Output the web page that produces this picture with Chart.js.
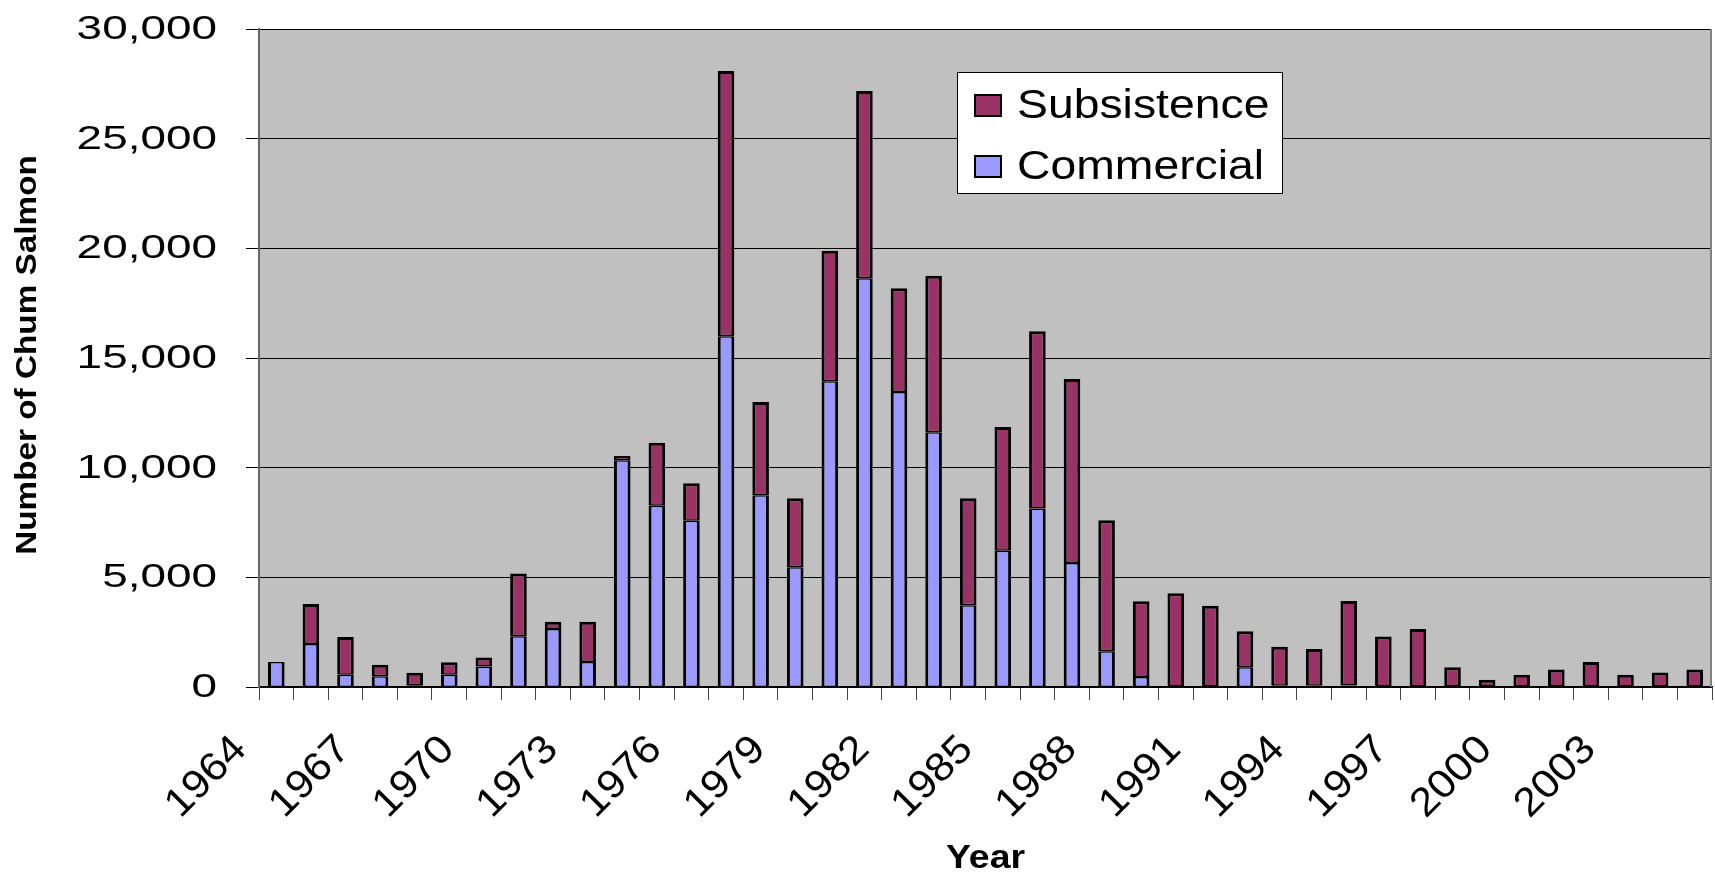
<!DOCTYPE html>
<html>
<head>
<meta charset="utf-8">
<title>Chum Salmon Harvest</title>
<script src="https://cdn.jsdelivr.net/npm/chart.js@4"></script>
<style>
  body { margin: 0; background: #fff; }
  canvas { display: block; }
</style>
</head>
<body>
<canvas id="harvestChart" width="1715" height="873"></canvas>
<script>
var years = ['1964','1965','1966','1967','1968','1969','1970','1971','1972','1973',
             '1974','1975','1976','1977','1978','1979','1980','1981','1982','1983',
             '1984','1985','1986','1987','1988','1989','1990','1991','1992','1993',
             '1994','1995','1996','1997','1998','1999','2000','2001','2002','2003',
             '2004','2005'];

// fish taken by the commercial fishery (bottom of each bar)
var commercial = [1140, 1960, 560, 490, 80, 560, 930, 2310, 2650, 1140,
                  10340, 8260, 7580, 15990, 8745, 5460, 13940, 18640, 13455, 11620,
                  3730, 6215, 8140, 5650, 1625, 455, 0, 0, 895, 60,
                  60, 70, 0, 0, 0, 0, 0, 0, 0, 0,
                  0, 0];

// subsistence harvest stacked on top
var subsistence = [0, 1825, 1720, 530, 570, 565, 420, 2860, 330, 1840,
                   190, 2880, 1710, 12090, 4245, 3150, 5955, 8530, 4730, 7125,
                   4880, 5635, 8075, 8395, 5975, 3455, 4275, 3710, 1645, 1780,
                   1675, 3855, 2300, 2650, 905, 325, 555, 800, 1135, 555,
                   660, 800];

// every third year gets a label on the x axis
var yearLabels = ['1964','1967','1970','1973','1976','1979','1982','1985',
                  '1988','1991','1994','1997','2000','2003'];

var FONT = '"Liberation Sans", Arial, sans-serif';

// the labels in this chart are drawn wider than the font, so scale them along x
function stretchText(ctx, text, x, y, angle, sx, font, align) {
    ctx.save();
    ctx.translate(x, y);
    ctx.rotate(angle);
    ctx.scale(sx, 1);
    ctx.font = font;
    ctx.fillStyle = '#000';
    ctx.textAlign = align;
    ctx.textBaseline = 'alphabetic';
    ctx.fillText(text, 0, 0);
    ctx.restore();
}

var textPlugin = {
    id: 'salmonText',
    beforeDraw: function(chart) {
        var ctx = chart.ctx, a = chart.chartArea;
        ctx.save();
        ctx.fillStyle = '#c0c0c0';
        ctx.fillRect(a.left, a.top, a.right - a.left, a.bottom - a.top);
        ctx.restore();
    },
    afterDraw: function(chart) {
        var ctx = chart.ctx, a = chart.chartArea;
        var xs = chart.scales.x, ys = chart.scales.y;

        // grey frame on the right side of the plot
        ctx.save();
        ctx.strokeStyle = '#808080';
        ctx.lineWidth = 2;
        ctx.beginPath();
        ctx.moveTo(a.right - 1, a.top);
        ctx.lineTo(a.right - 1, a.bottom);
        ctx.stroke();
        ctx.restore();

        // y tick labels
        ys.ticks.forEach(function(t) {
            stretchText(ctx, t.value.toLocaleString('en-US'), a.left - 42,
                        ys.getPixelForValue(t.value) + 10, 0, 1.35, '34px ' + FONT, 'right');
        });

        // rotated year labels
        yearLabels.forEach(function(lbl) {
            var cx = xs.getPixelForValue(years.indexOf(lbl));
            stretchText(ctx, lbl, cx - 28, a.bottom + 64, -Math.PI / 4, 1.08, '40px ' + FONT, 'right');
        });

        // axis titles
        stretchText(ctx, 'Number of Chum Salmon', 36, (a.top + a.bottom) / 2 - 3,
                    -Math.PI / 2, 1.11, 'bold 30px ' + FONT, 'center');
        stretchText(ctx, 'Year', (a.left + a.right) / 2, 868, 0, 1.1, 'bold 34px ' + FONT, 'center');

        // legend box, subsistence listed first
        ctx.save();
        ctx.fillStyle = '#fff';
        ctx.fillRect(957, 72, 325, 121);
        ctx.strokeStyle = '#000';
        ctx.lineWidth = 1;
        ctx.strokeRect(957.5, 72.5, 325, 121);
        ctx.restore();

        var sets = chart.data.datasets.slice().reverse();
        sets.forEach(function(ds, i) {
            var top = 94 + i * 61;
            ctx.save();
            ctx.fillStyle = ds.backgroundColor;
            ctx.fillRect(974, top, 28, 23);
            ctx.strokeStyle = '#000';
            ctx.lineWidth = 2;
            ctx.strokeRect(975, top + 1, 26, 21);
            ctx.restore();
            stretchText(ctx, ds.label, 1017, top + 24, 0, 1.13, '41px ' + FONT, 'left');
        });
    }
};

var ctx = document.getElementById('harvestChart').getContext('2d');

var harvestChart = new Chart(ctx, {
    type: 'bar',
    data: {
        labels: years,
        datasets: [{
            label: 'Commercial',
            data: commercial,
            backgroundColor: '#9999ff',
            borderColor: '#000',
            borderWidth: { top: 1.5, bottom: 1, left: 3, right: 3 },
            borderSkipped: false,
            barPercentage: 0.48,
            categoryPercentage: 1
        }, {
            label: 'Subsistence',
            data: subsistence,
            backgroundColor: '#993366',
            borderColor: '#000',
            borderWidth: { top: 3, bottom: 1.5, left: 3, right: 3 },
            borderSkipped: false,
            barPercentage: 0.48,
            categoryPercentage: 1
        }]
    },
    options: {
        responsive: false,
        animation: false,
        layout: { padding: { left: 246, top: 29, right: 3, bottom: 173 } },
        plugins: {
            legend: { display: false },
            tooltip: { enabled: false }
        },
        scales: {
            x: {
                stacked: true,
                ticks: { display: false },
                grid: { offset: true, drawOnChartArea: false, drawTicks: true, tickLength: 13, color: '#444' },
                border: { color: '#000', width: 1.5 }
            },
            y: {
                stacked: true,
                min: 0,
                max: 30000,
                ticks: { display: false, stepSize: 5000 },
                grid: { color: '#000', lineWidth: 1, tickLength: 13 },
                border: { color: '#666', width: 2 }
            }
        }
    },
    plugins: [textPlugin]
});
</script>
</body>
</html>
